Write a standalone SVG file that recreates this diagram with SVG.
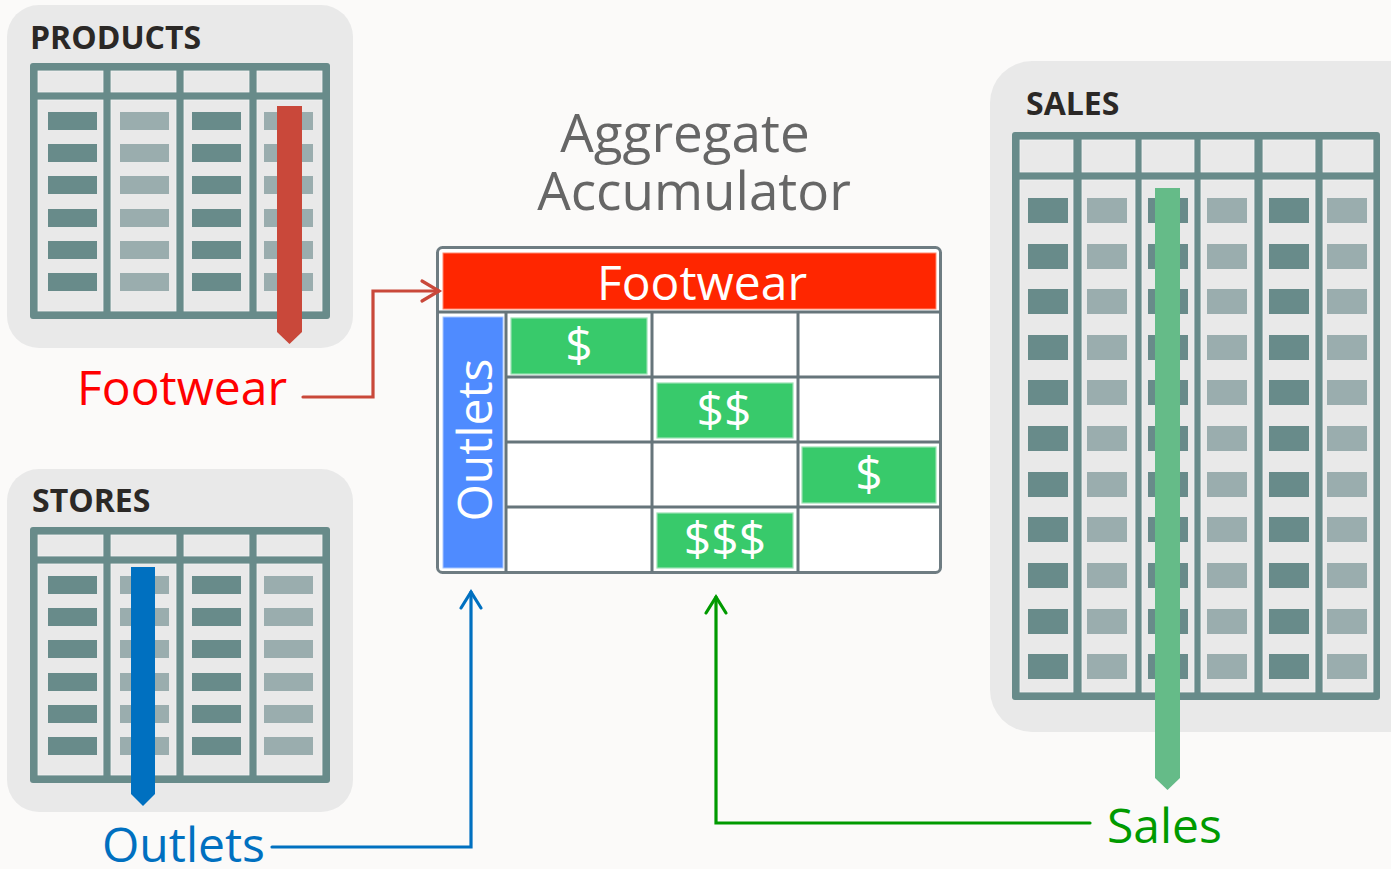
<svg xmlns="http://www.w3.org/2000/svg" width="1391" height="869" viewBox="0 0 1391 869">
  <style>
    .panel { fill: #E9E9E9; }
    .frame { fill: #688B8A; }
    .cell { fill: #E9E9E9; stroke: #F3F3F3; stroke-width: 0.8; }
    .dk { fill: #688B8A; }
    .lt { fill: #9AADAE; }
    .title { font-family: "Open Sans", "Noto Sans", sans-serif; font-weight: 700; font-size: 32px; fill: #2B2826; }
    .lbl { font-family: "Open Sans", "Noto Sans", sans-serif; font-size: 48px; }
    .head { font-family: "Open Sans", "Noto Sans", sans-serif; font-size: 53px; fill: #666666; text-anchor: middle; }
    .grid { stroke: #66757B; stroke-width: 3; fill: none; }
    .money { fill: #38CA6B; stroke: #9CE2B4; stroke-width: 1.2; }
    .wt { font-family: "Open Sans", "Noto Sans", sans-serif; font-size: 48px; fill: #FFFFFF; text-anchor: middle; }
    .conn { fill: none; stroke-width: 3.2; stroke-linecap: round; stroke-linejoin: miter; }
  </style>

  <rect width="1391" height="869" fill="#FBFAF9"/>

  <!-- PRODUCTS table -->
  <g id="products">
    <rect class="panel" x="7" y="5" width="346" height="343" rx="32"/>
    <text class="title" x="30" y="49">PRODUCTS</text>
    <rect class="frame" x="30" y="63" width="300" height="256" rx="3"/>
    <rect class="cell" x="38" y="71" width="65" height="21"/>
    <rect class="cell" x="111" y="71" width="65" height="21"/>
    <rect class="cell" x="184" y="71" width="65" height="21"/>
    <rect class="cell" x="257" y="71" width="65" height="21"/>
    <rect class="cell" x="38" y="100" width="65" height="211"/>
    <rect class="cell" x="111" y="100" width="65" height="211"/>
    <rect class="cell" x="184" y="100" width="65" height="211"/>
    <rect class="cell" x="257" y="100" width="65" height="211"/>
    <g id="products-rows">
      <rect class="dk" x="48" y="112" width="49" height="18"/><rect class="lt" x="120" y="112" width="49" height="18"/><rect class="dk" x="192" y="112" width="49" height="18"/><rect class="lt" x="264" y="112" width="49" height="18"/>
      <rect class="dk" x="48" y="144" width="49" height="18"/><rect class="lt" x="120" y="144" width="49" height="18"/><rect class="dk" x="192" y="144" width="49" height="18"/><rect class="lt" x="264" y="144" width="49" height="18"/>
      <rect class="dk" x="48" y="176" width="49" height="18"/><rect class="lt" x="120" y="176" width="49" height="18"/><rect class="dk" x="192" y="176" width="49" height="18"/><rect class="lt" x="264" y="176" width="49" height="18"/>
      <rect class="dk" x="48" y="209" width="49" height="18"/><rect class="lt" x="120" y="209" width="49" height="18"/><rect class="dk" x="192" y="209" width="49" height="18"/><rect class="lt" x="264" y="209" width="49" height="18"/>
      <rect class="dk" x="48" y="241" width="49" height="18"/><rect class="lt" x="120" y="241" width="49" height="18"/><rect class="dk" x="192" y="241" width="49" height="18"/><rect class="lt" x="264" y="241" width="49" height="18"/>
      <rect class="dk" x="48" y="273" width="49" height="18"/><rect class="lt" x="120" y="273" width="49" height="18"/><rect class="dk" x="192" y="273" width="49" height="18"/><rect class="lt" x="264" y="273" width="49" height="18"/>
    </g>
    <!-- selected column marker -->
    <polygon points="277,106 302,106 302,332 289.5,344 277,332" fill="#C9483A"/>
  </g>

  <!-- STORES table -->
  <g id="stores">
    <rect class="panel" x="7" y="469" width="346" height="343" rx="32"/>
    <text class="title" x="32" y="512">STORES</text>
    <rect class="frame" x="30" y="527" width="300" height="256" rx="3"/>
    <rect class="cell" x="38" y="535" width="65" height="21"/>
    <rect class="cell" x="111" y="535" width="65" height="21"/>
    <rect class="cell" x="184" y="535" width="65" height="21"/>
    <rect class="cell" x="257" y="535" width="65" height="21"/>
    <rect class="cell" x="38" y="564" width="65" height="211"/>
    <rect class="cell" x="111" y="564" width="65" height="211"/>
    <rect class="cell" x="184" y="564" width="65" height="211"/>
    <rect class="cell" x="257" y="564" width="65" height="211"/>
    <g id="stores-rows">
      <rect class="dk" x="48" y="576" width="49" height="18"/><rect class="lt" x="120" y="576" width="49" height="18"/><rect class="dk" x="192" y="576" width="49" height="18"/><rect class="lt" x="264" y="576" width="49" height="18"/>
      <rect class="dk" x="48" y="608" width="49" height="18"/><rect class="lt" x="120" y="608" width="49" height="18"/><rect class="dk" x="192" y="608" width="49" height="18"/><rect class="lt" x="264" y="608" width="49" height="18"/>
      <rect class="dk" x="48" y="640" width="49" height="18"/><rect class="lt" x="120" y="640" width="49" height="18"/><rect class="dk" x="192" y="640" width="49" height="18"/><rect class="lt" x="264" y="640" width="49" height="18"/>
      <rect class="dk" x="48" y="673" width="49" height="18"/><rect class="lt" x="120" y="673" width="49" height="18"/><rect class="dk" x="192" y="673" width="49" height="18"/><rect class="lt" x="264" y="673" width="49" height="18"/>
      <rect class="dk" x="48" y="705" width="49" height="18"/><rect class="lt" x="120" y="705" width="49" height="18"/><rect class="dk" x="192" y="705" width="49" height="18"/><rect class="lt" x="264" y="705" width="49" height="18"/>
      <rect class="dk" x="48" y="737" width="49" height="18"/><rect class="lt" x="120" y="737" width="49" height="18"/><rect class="dk" x="192" y="737" width="49" height="18"/><rect class="lt" x="264" y="737" width="49" height="18"/>
    </g>
    <polygon points="131,567 155,567 155,794 143,806 131,794" fill="#0070C0"/>
  </g>

  <!-- SALES table -->
  <g id="sales">
    <rect class="panel" x="990" y="61" width="440" height="671" rx="42"/>
    <text class="title" x="1026" y="115">SALES</text>
    <rect class="frame" x="1012" y="132" width="368" height="568" rx="3"/>
    <rect class="cell" x="1020" y="140" width="53" height="32"/>
    <rect class="cell" x="1082" y="140" width="53" height="32"/>
    <rect class="cell" x="1142" y="140" width="52" height="32"/>
    <rect class="cell" x="1201" y="140" width="53" height="32"/>
    <rect class="cell" x="1263" y="140" width="52" height="32"/>
    <rect class="cell" x="1323" y="140" width="50" height="32"/>
    <rect class="cell" x="1020" y="180" width="53" height="512"/>
    <rect class="cell" x="1082" y="180" width="53" height="512"/>
    <rect class="cell" x="1142" y="180" width="52" height="512"/>
    <rect class="cell" x="1201" y="180" width="53" height="512"/>
    <rect class="cell" x="1263" y="180" width="52" height="512"/>
    <rect class="cell" x="1323" y="180" width="50" height="512"/>
    <g id="sales-rows">
      <rect class="dk" x="1028" y="198" width="40" height="25"/><rect class="lt" x="1087" y="198" width="40" height="25"/><rect class="dk" x="1148" y="198" width="40" height="25"/><rect class="lt" x="1207" y="198" width="40" height="25"/><rect class="dk" x="1269" y="198" width="40" height="25"/><rect class="lt" x="1327" y="198" width="40" height="25"/>
      <rect class="dk" x="1028" y="244" width="40" height="25"/><rect class="lt" x="1087" y="244" width="40" height="25"/><rect class="dk" x="1148" y="244" width="40" height="25"/><rect class="lt" x="1207" y="244" width="40" height="25"/><rect class="dk" x="1269" y="244" width="40" height="25"/><rect class="lt" x="1327" y="244" width="40" height="25"/>
      <rect class="dk" x="1028" y="289" width="40" height="25"/><rect class="lt" x="1087" y="289" width="40" height="25"/><rect class="dk" x="1148" y="289" width="40" height="25"/><rect class="lt" x="1207" y="289" width="40" height="25"/><rect class="dk" x="1269" y="289" width="40" height="25"/><rect class="lt" x="1327" y="289" width="40" height="25"/>
      <rect class="dk" x="1028" y="335" width="40" height="25"/><rect class="lt" x="1087" y="335" width="40" height="25"/><rect class="dk" x="1148" y="335" width="40" height="25"/><rect class="lt" x="1207" y="335" width="40" height="25"/><rect class="dk" x="1269" y="335" width="40" height="25"/><rect class="lt" x="1327" y="335" width="40" height="25"/>
      <rect class="dk" x="1028" y="380" width="40" height="25"/><rect class="lt" x="1087" y="380" width="40" height="25"/><rect class="dk" x="1148" y="380" width="40" height="25"/><rect class="lt" x="1207" y="380" width="40" height="25"/><rect class="dk" x="1269" y="380" width="40" height="25"/><rect class="lt" x="1327" y="380" width="40" height="25"/>
      <rect class="dk" x="1028" y="426" width="40" height="25"/><rect class="lt" x="1087" y="426" width="40" height="25"/><rect class="dk" x="1148" y="426" width="40" height="25"/><rect class="lt" x="1207" y="426" width="40" height="25"/><rect class="dk" x="1269" y="426" width="40" height="25"/><rect class="lt" x="1327" y="426" width="40" height="25"/>
      <rect class="dk" x="1028" y="472" width="40" height="25"/><rect class="lt" x="1087" y="472" width="40" height="25"/><rect class="dk" x="1148" y="472" width="40" height="25"/><rect class="lt" x="1207" y="472" width="40" height="25"/><rect class="dk" x="1269" y="472" width="40" height="25"/><rect class="lt" x="1327" y="472" width="40" height="25"/>
      <rect class="dk" x="1028" y="517" width="40" height="25"/><rect class="lt" x="1087" y="517" width="40" height="25"/><rect class="dk" x="1148" y="517" width="40" height="25"/><rect class="lt" x="1207" y="517" width="40" height="25"/><rect class="dk" x="1269" y="517" width="40" height="25"/><rect class="lt" x="1327" y="517" width="40" height="25"/>
      <rect class="dk" x="1028" y="563" width="40" height="25"/><rect class="lt" x="1087" y="563" width="40" height="25"/><rect class="dk" x="1148" y="563" width="40" height="25"/><rect class="lt" x="1207" y="563" width="40" height="25"/><rect class="dk" x="1269" y="563" width="40" height="25"/><rect class="lt" x="1327" y="563" width="40" height="25"/>
      <rect class="dk" x="1028" y="609" width="40" height="25"/><rect class="lt" x="1087" y="609" width="40" height="25"/><rect class="dk" x="1148" y="609" width="40" height="25"/><rect class="lt" x="1207" y="609" width="40" height="25"/><rect class="dk" x="1269" y="609" width="40" height="25"/><rect class="lt" x="1327" y="609" width="40" height="25"/>
      <rect class="dk" x="1028" y="654" width="40" height="25"/><rect class="lt" x="1087" y="654" width="40" height="25"/><rect class="dk" x="1148" y="654" width="40" height="25"/><rect class="lt" x="1207" y="654" width="40" height="25"/><rect class="dk" x="1269" y="654" width="40" height="25"/><rect class="lt" x="1327" y="654" width="40" height="25"/>
    </g>
    <polygon points="1155,188 1180,188 1180,778 1167.5,790 1155,778" fill="#65BB88"/>
  </g>

  <!-- Accumulator matrix -->
  <g id="accumulator">
    <text class="head" x="685" y="152">Aggregate</text>
    <text class="head" x="694" y="210">Accumulator</text>
    <rect x="437.5" y="247.5" width="503" height="325" rx="5" fill="#FFFFFF" stroke="#6E7C82" stroke-width="3"/>
    <rect x="443" y="253" width="493" height="56" fill="#FF2600" stroke="#FF8A70" stroke-width="1"/>
    <text class="wt" x="702" y="300">Footwear</text>
    <line class="grid" x1="438" y1="312" x2="940" y2="312"/>
    <line class="grid" x1="506" y1="377" x2="940" y2="377"/>
    <line class="grid" x1="506" y1="442" x2="940" y2="442"/>
    <line class="grid" x1="506" y1="507" x2="940" y2="507"/>
    <line class="grid" x1="506" y1="312" x2="506" y2="572"/>
    <line class="grid" x1="652" y1="312" x2="652" y2="572"/>
    <line class="grid" x1="798" y1="312" x2="798" y2="572"/>
    <rect x="443" y="317" width="60" height="251" fill="#4F8BFF" stroke="#A9C6FF" stroke-width="1"/>
    <text class="wt" transform="translate(492,440) rotate(-90)" x="0" y="0">Outlets</text>
    <rect class="money" x="511" y="318" width="136" height="56"/>
    <text class="wt" x="579" y="362">$</text>
    <rect class="money" x="657" y="383" width="136" height="55"/>
    <text class="wt" x="724" y="427">$$</text>
    <rect class="money" x="802" y="447" width="134" height="56"/>
    <text class="wt" x="869" y="491">$</text>
    <rect class="money" x="657" y="513" width="136" height="55"/>
    <text class="wt" x="725" y="556">$$$</text>
  </g>

  <!-- Labels -->
  <g id="label-footwear">
    <text class="lbl" x="77" y="405" fill="#FF0000">Footwear</text>
  </g>
  <g id="label-outlets">
    <text class="lbl" x="102" y="862" fill="#0070C0">Outlets</text>
  </g>
  <g id="label-sales">
    <text class="lbl" x="1107" y="843" fill="#009A00">Sales</text>
  </g>

  <!-- Connectors -->
  <g id="connectors">
    <path class="conn" d="M303,397 H373 V291 H439" stroke="#C9483A" stroke-linecap="butt"/>
    <polyline class="conn" points="422,281 439,291 422,301" stroke="#C9483A"/>
    <path class="conn" d="M272,847 H471 V592" stroke="#0070C0" stroke-linecap="butt"/>
    <polyline class="conn" points="461,608 471,592 481,608" stroke="#0070C0"/>
    <path class="conn" d="M1090,823 H716 V597" stroke="#009A00" stroke-linecap="butt"/>
    <polyline class="conn" points="706,613 716,597 726,613" stroke="#009A00"/>
  </g>
</svg>
